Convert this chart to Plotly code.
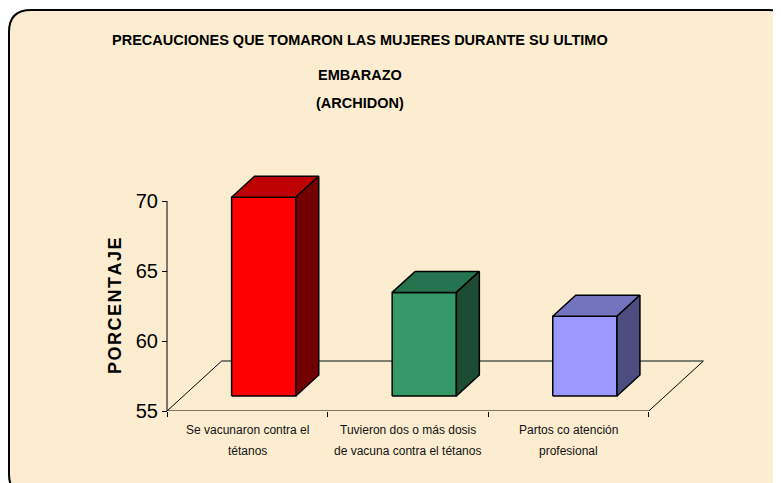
import plotly.graph_objects as go

# ---------------- data ----------------
categories = [["Se vacunaron contra el", "tétanos"],
              ["Tuvieron dos o más dosis", "de vacuna contra el tétanos"],
              ["Partos co atención", "profesional"]]
values = [69.2, 62.4, 60.7]
y_ticks = [55, 60, 65, 70]
title_lines = ["PRECAUCIONES QUE TOMARON LAS MUJERES DURANTE SU ULTIMO",
               "EMBARAZO", "(ARCHIDON)"]
y_title = "\u200a".join("PORCENTAJE")

# ---------------- style ----------------
front_colors = ["#FF0000", "#339966", "#9999FF"]
top_colors = ["#BF0000", "#267350", "#7373BF"]
side_colors = ["#730000", "#1C4D33", "#4D4D80"]
FONT = "Liberation Sans, Arial, sans-serif"
BG = "#FCEDD0"

OFF = 8                      # page body margin offset
W, H = 773, 475
ML, MR, MT, MB = 151, 76, 165, 72
Y_MIN, Y_MAX = 55, 72
X_MIN, X_MAX = -0.55, 2.85
PW, PH = W - ML - MR, H - MT - MB
DX, DY = 0.34, 3.57          # floor depth in data units
F1, F2 = 0.30, 0.72          # bar front/back depth fraction
HW = 0.2                     # bar half width


def px(xp):
    return (xp - OFF - ML) / PW


def py(yp):
    return (H - MB - (yp - OFF)) / PH


fig = go.Figure()

# floor
x_lo, x_hi = -0.5, len(categories) - 0.5
fig.add_trace(go.Scatter(x=[x_hi + DX, x_lo + DX], y=[Y_MIN + DY] * 2, mode="lines",
                         line=dict(color="#7F7F70", width=2), hoverinfo="skip"))
fig.add_trace(go.Scatter(x=[x_lo + DX, x_lo, x_hi, x_hi + DX], y=[Y_MIN + DY, Y_MIN, Y_MIN, Y_MIN + DY],
                         mode="lines", line=dict(color="black", width=1), hoverinfo="skip"))
# y axis line
fig.add_trace(go.Scatter(x=[x_lo, x_lo], y=[Y_MIN, max(y_ticks)], mode="lines",
                         line=dict(color="black", width=1), hoverinfo="skip"))

# 3D bars
for i, v in enumerate(values):
    x0 = i - HW + F1 * DX
    x1 = i + HW + F1 * DX
    b1 = Y_MIN + F1 * DY
    t1 = v + F1 * DY
    ddx, ddy = (F2 - F1) * DX, (F2 - F1) * DY
    ln = dict(color="black", width=1.5)
    fig.add_trace(go.Scatter(x=[x0, x1, x1, x0, x0], y=[b1, b1, t1, t1, b1], fill="toself",
                             fillcolor=front_colors[i], mode="lines", line=ln, hoverinfo="skip"))
    fig.add_trace(go.Scatter(x=[x0, x1, x1 + ddx, x0 + ddx, x0], y=[t1, t1, t1 + ddy, t1 + ddy, t1],
                             fill="toself", fillcolor=top_colors[i], mode="lines", line=ln, hoverinfo="skip"))
    fig.add_trace(go.Scatter(x=[x1, x1 + ddx, x1 + ddx, x1, x1], y=[b1, b1 + ddy, t1 + ddy, t1, b1],
                             fill="toself", fillcolor=side_colors[i], mode="lines", line=ln, hoverinfo="skip"))

# invisible trace on xaxis2 for boundary ticks
fig.add_trace(go.Scatter(x=[x_lo, x_hi], y=[Y_MIN, Y_MIN], xaxis="x2", mode="lines",
                         line=dict(width=0), hoverinfo="skip"))

fig.update_layout(
    width=W, height=H, margin=dict(l=ML, r=MR, t=MT, b=MB),
    paper_bgcolor="white", plot_bgcolor="rgba(0,0,0,0)", showlegend=False,
    font=dict(family=FONT, color="black"),
    xaxis=dict(range=[X_MIN, X_MAX], showticklabels=False, ticks="", showgrid=False,
               zeroline=False, showline=False),
    xaxis2=dict(range=[X_MIN, X_MAX], overlaying="x", anchor="y", side="bottom",
                tickvals=[k - 0.5 for k in range(len(categories) + 1)], ticks="outside", ticklen=5,
                tickcolor="black", showticklabels=False, showgrid=False, zeroline=False, showline=False),
    yaxis=dict(range=[Y_MIN, Y_MAX], tickvals=y_ticks, ticks="outside", ticklen=5, tickcolor="black",
               showgrid=False, zeroline=False, showline=False, anchor="free", position=px(167),
               tickfont=dict(size=20, family=FONT)),
)

# background rounded rectangle
x0p, x1p, y0p, y1p, r = 9, 790, 10, 496, 22
path = (f"M {px(x0p + r)} {py(y0p)} L {px(x1p - r)} {py(y0p)} "
        f"Q {px(x1p)} {py(y0p)} {px(x1p)} {py(y0p + r)} L {px(x1p)} {py(y1p - r)} "
        f"Q {px(x1p)} {py(y1p)} {px(x1p - r)} {py(y1p)} L {px(x0p + r)} {py(y1p)} "
        f"Q {px(x0p)} {py(y1p)} {px(x0p)} {py(y1p - r)} L {px(x0p)} {py(y0p + r)} "
        f"Q {px(x0p)} {py(y0p)} {px(x0p + r)} {py(y0p)} Z")
fig.add_shape(type="path", path=path, xref="paper", yref="paper", layer="below",
              fillcolor=BG, line=dict(color="black", width=2))

# category labels (two lines each, placed on the x scale)
for i, lines in enumerate(categories):
    for line, yp in zip(lines, [430, 451]):
        fig.add_annotation(text=line, x=i, y=py(yp), xref="x", yref="paper", showarrow=False,
                           xanchor="center", yanchor="middle",
                           font=dict(size=12, family=FONT, color="#111111"))

# titles
for line, yp in zip(title_lines, [40, 75, 103]):
    fig.add_annotation(text=f"<b>{line}</b>", x=px(360), y=py(yp), xref="paper", yref="paper",
                       showarrow=False, xanchor="center", yanchor="middle",
                       font=dict(size=14.5, family=FONT))
fig.add_annotation(text=f"<b>{y_title}</b>", x=px(115), y=py(306), xref="paper", yref="paper",
                   showarrow=False, textangle=-90, xanchor="center", yanchor="middle",
                   font=dict(size=18, family=FONT))

fig.write_html("out.html")
